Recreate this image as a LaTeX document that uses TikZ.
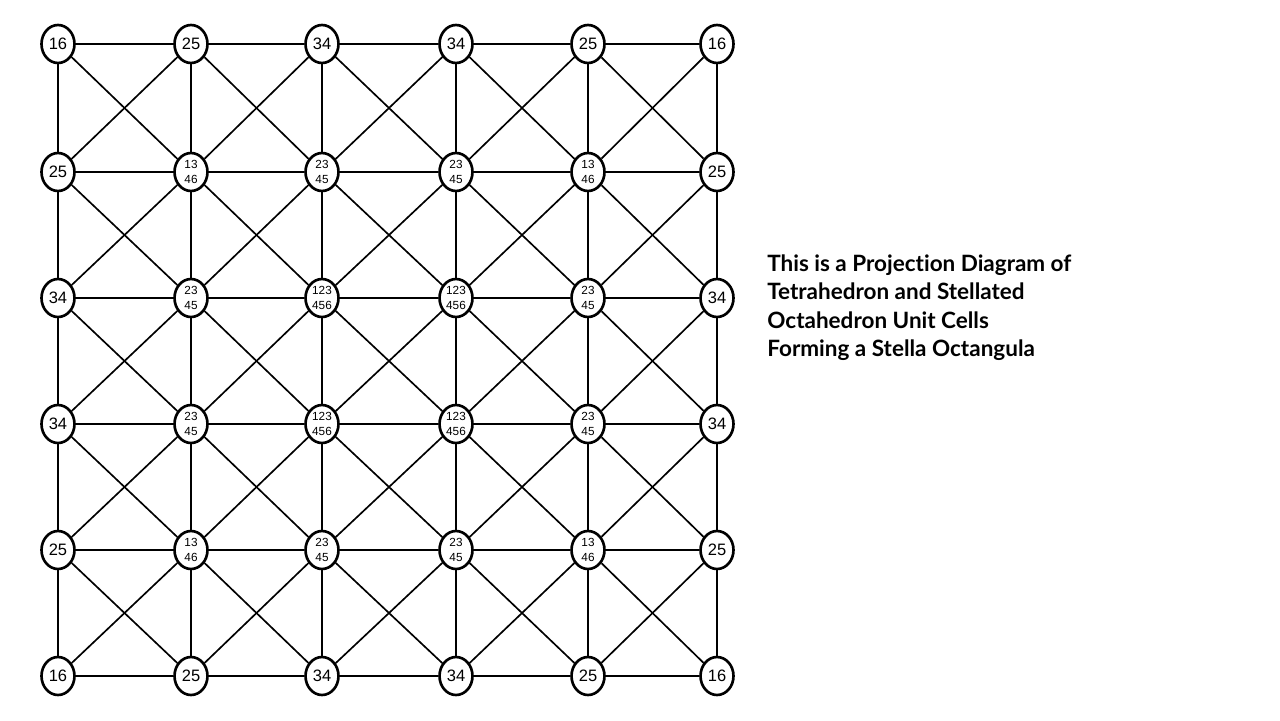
\documentclass[tikz,border=0pt]{standalone}
\usepackage{fontspec}
\setmainfont{Liberation Sans}
\newfontfamily\titlefont[Ligatures=CommonOff]{Lato}
\usetikzlibrary{shapes.geometric}

\begin{document}
\begin{tikzpicture}[x=0.02cm, y=-0.02cm,
  vtx/.style={ellipse, draw=black, line width=1.5pt, minimum width=0.66cm, minimum height=0.76cm, inner sep=0pt, align=center},
  big/.style={font=\fontsize{9.4}{10}\selectfont},
  small/.style={font=\fontsize{6.7}{8.8}\selectfont},
  edge/.style={line width=0.95pt}]
  \useasboundingbox (0,0) rectangle (1280,720);

  % vertices, row by row
  \foreach \y/\r in {44/1,676/6}
    \foreach \x/\t/\s [count=\c] in {58/16/big,191/25/big,322/34/big,456/34/big,588/25/big,717/16/big}
      \node[vtx,\s] (n\r\c) at (\x,\y) {\t};
  \foreach \y/\r in {172/2,550/5}
    \foreach \x/\t/\s [count=\c] in {58/25/big,191/{13\\46}/small,322/{23\\45}/small,456/{23\\45}/small,588/{13\\46}/small,717/25/big}
      \node[vtx,\s] (n\r\c) at (\x,\y) {\t};
  \foreach \y/\r in {298/3,424/4}
    \foreach \x/\t/\s [count=\c] in {58/34/big,191/{23\\45}/small,322/{123\\456}/small,456/{123\\456}/small,588/{23\\45}/small,717/34/big}
      \node[vtx,\s] (n\r\c) at (\x,\y) {\t};

  % grid lines
  \foreach \a [evaluate=\a as \b using int(\a+1)] in {1,...,5} {
    \foreach \k in {1,...,6} {
      \draw[edge] (n\k\a) -- (n\k\b);
      \draw[edge] (n\a\k) -- (n\b\k);
    }
  }
  % crosses in every cell
  \foreach \a [evaluate=\a as \b using int(\a+1)] in {1,...,5} {
    \foreach \c [evaluate=\c as \d using int(\c+1)] in {1,...,5} {
      \draw[edge] (n\a\c) -- (n\b\d);
      \draw[edge] (n\a\d) -- (n\b\c);
    }
  }

  \node[anchor=north west, inner sep=0pt, align=left, font=\titlefont\bfseries\fontsize{12.8}{16.3}\selectfont] (title) at (767,254)
    {This is a Projection Diagram of\\Tetrahedron and Stellated\\Octahedron Unit Cells\\Forming a Stella Octangula};
\end{tikzpicture}
\end{document}
